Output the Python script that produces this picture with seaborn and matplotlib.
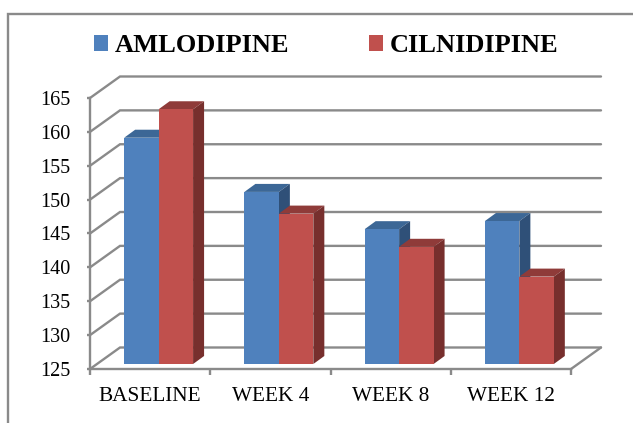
import pandas as pd
import seaborn as sns
import matplotlib.pyplot as plt
from matplotlib.patches import Polygon
from matplotlib.lines import Line2D

weeks = ['BASELINE', 'WEEK 4', 'WEEK 8', 'WEEK 12']
amlodipine = [158.4, 150.4, 144.9, 146.1]
cilnidipine = [162.6, 147.2, 142.3, 137.9]
y_ticks = [125, 130, 135, 140, 145, 150, 155, 160, 165]

W, H = 633, 423
GRID = '#8a8a8a'
LW = 1.7

df = pd.DataFrame({
    'week': weeks * 2,
    'drug': ['AMLODIPINE'] * 4 + ['CILNIDIPINE'] * 4,
    'value': amlodipine + cilnidipine,
})

sns.set_style('white')
plt.rcParams['font.family'] = ['Liberation Serif', 'DejaVu Serif']

fig = plt.figure(figsize=(W / 100, H / 100), dpi=100)
ax = fig.add_axes([90 / W, (H - 369) / H, 481 / W, 271 / H])

sns.barplot(data=df, x='week', y='value', hue='drug', dodge=True, width=0.573, gap=0,
            palette=['#4f81bd', '#c0504d'], ax=ax, saturation=1, linewidth=0)

ax.set_xlim(-0.5, 3.5)
ax.set_ylim(125, 165)
ax.set_xlabel('')
ax.set_ylabel('')

# pixel sizes of the fake 3d box, turned into data units
px_x = 4 / 481
px_y = 40 / 271
wall_dx, wall_dy = 30 * px_x, 21.5 * px_y
bar_dx, bar_dy = 8.5 * px_x, 5 * px_y
side_dx, side_dy = 11 * px_x, 8 * px_y

# back wall and floor
for v in y_ticks:
    ax.plot([-0.5, -0.5 + wall_dx, 3.5 + wall_dx], [v, v + wall_dy, v + wall_dy],
            color=GRID, lw=LW, zorder=2, clip_on=False, solid_joinstyle='miter')
ax.plot([3.5, 3.5 + wall_dx], [125, 125 + wall_dy], color=GRID, lw=LW, zorder=2, clip_on=False)

# move the bars onto the floor and give them top and side faces
faces = [('#3c6796', '#2f5078', 3), ('#8f3b39', '#772f2d', 4)]
for container, (top_c, side_c, z) in zip(ax.containers, faces):
    for p in container:
        # the axis starts at 125, bars are drawn from there
        p.set_height(p.get_height() - 125)
        p.set_x(p.get_x() + bar_dx)
        p.set_y(125 + bar_dy)
        p.set_zorder(z + 0.1)
        p.set_clip_on(False)
        x0 = p.get_x()
        x1 = x0 + p.get_width()
        y0 = p.get_y()
        y1 = y0 + p.get_height()
        ax.add_patch(Polygon([(x0, y1), (x0 + side_dx, y1 + side_dy), (x1 + side_dx, y1 + side_dy), (x1, y1)],
                             fc=top_c, ec='none', zorder=z, clip_on=False))
        ax.add_patch(Polygon([(x1, y0), (x1 + side_dx, y0 + side_dy), (x1 + side_dx, y1 + side_dy), (x1, y1)],
                             fc=side_c, ec='none', zorder=z, clip_on=False))

ax.spines['top'].set_visible(False)
ax.spines['right'].set_visible(False)
for s in ['left', 'bottom']:
    ax.spines[s].set_color(GRID)
    ax.spines[s].set_linewidth(LW)

ax.set_yticks(y_ticks)
ax.set_xticks([-0.5, 0.5, 1.5, 2.5, 3.5], minor=True)
ax.tick_params(axis='x', which='major', length=0, pad=13, labelsize=15.3, colors='black')
ax.tick_params(axis='x', which='minor', length=4, width=LW, color=GRID, bottom=True)
ax.tick_params(axis='y', length=2.5, width=LW, color=GRID, left=True, pad=11.7, labelsize=14.5, labelcolor='black')

sns.move_legend(ax, 'center left', bbox_to_anchor=(94 / W, (H - 46) / H), bbox_transform=fig.transFigure,
                ncol=2, title=None, frameon=False, borderpad=0, borderaxespad=0,
                handlelength=0.53, handleheight=0.53, handletextpad=0.27, columnspacing=3.0,
                labelcolor='black',
                prop={'family': 'Liberation Serif', 'weight': 'bold', 'size': 19})

# frame of the picture, only top and left are in the crop
fig.add_artist(Line2D([8 / W, 8 / W, 1], [0, (H - 14) / H, (H - 14) / H], color=GRID, lw=LW,
                      solid_joinstyle='miter'))

fig.savefig('out.png', dpi=100)
